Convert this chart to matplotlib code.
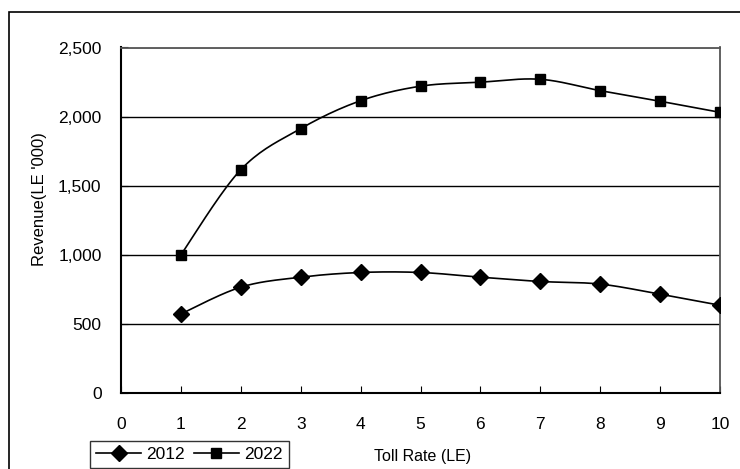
import numpy as np
import matplotlib.pyplot as plt
from matplotlib.patches import Rectangle
from matplotlib.ticker import FuncFormatter

toll_rate = [1, 2, 3, 4, 5, 6, 7, 8, 9, 10]
rev_2012 = [572, 766, 838, 872, 872, 838, 807, 788, 715, 635]
rev_2022 = [1000, 1616, 1913, 2115, 2220, 2249, 2270, 2188, 2111, 2031]


def smooth(x, y, n=20):
    # Catmull-Rom curve through the points, like a smoothed line in a spreadsheet chart
    x = np.asarray(x, float)
    y = np.asarray(y, float)
    px = np.concatenate([[x[0]], x, [x[-1]]])
    py = np.concatenate([[y[0]], y, [y[-1]]])
    xs, ys = [], []
    t = np.linspace(0, 1, n)
    for i in range(1, len(px) - 2):
        for p, out in ((px, xs), (py, ys)):
            p0, p1, p2, p3 = p[i - 1], p[i], p[i + 1], p[i + 2]
            out.extend(0.5 * (2 * p1 + (-p0 + p2) * t
                              + (2 * p0 - 5 * p1 + 4 * p2 - p3) * t ** 2
                              + (-p0 + 3 * p1 - 3 * p2 + p3) * t ** 3))
    return xs, ys


plt.rcParams['font.family'] = ['Liberation Sans', 'DejaVu Sans']

fig = plt.figure(figsize=(7.4, 4.69), dpi=100)
ax = fig.add_axes([121 / 740, 1 - 393 / 469, (720 - 121) / 740, (393 - 47.5) / 469])

# outer chart border
fig.patches.append(Rectangle((9 / 740, -0.1), 1.2, 1 - 12 / 469 + 0.1,
                             transform=fig.transFigure, fill=False,
                             edgecolor='black', linewidth=1.2))

for yr, vals, mk, ms in (('2012', rev_2012, 'D', 8), ('2022', rev_2022, 's', 7)):
    sx, sy = smooth(toll_rate, vals)
    ax.plot(sx, sy, color='black', linewidth=1.2, zorder=3)
    ax.plot(toll_rate, vals, linestyle='none', marker=mk, markersize=ms,
            color='black', zorder=4)

# legend entries
h1, = ax.plot([], [], color='black', marker='D', markersize=8, linewidth=1.2, label='2012')
h2, = ax.plot([], [], color='black', marker='s', markersize=7, linewidth=1.2, label='2022')
leg = fig.legend(handles=[h1, h2], loc='upper left', bbox_to_anchor=(90 / 740, 1 - 441 / 469),
                 ncol=2, frameon=True, fancybox=False, edgecolor='black', fontsize=12.5,
                 handlelength=2.6, handletextpad=0.3, columnspacing=0.5,
                 borderpad=0.35, borderaxespad=0)
leg.get_frame().set_linewidth(1.0)

ax.set_xlim(0, 10)
ax.set_ylim(0, 2500)
ax.set_xticks(range(0, 11))
ax.set_yticks(range(0, 2501, 500))
ax.yaxis.set_major_formatter(FuncFormatter(lambda v, p: f'{int(v):,}'))
ax.grid(axis='y', color='black', linewidth=1.0)
ax.set_axisbelow(True)

for s in ('top', 'right'):
    ax.spines[s].set_color('#555555')
    ax.spines[s].set_linewidth(1.3)
for s in ('left', 'bottom'):
    ax.spines[s].set_color('black')
    ax.spines[s].set_linewidth(1.5)

ax.tick_params(axis='x', direction='in', length=5, pad=17, labelsize=12.5)
ax.tick_params(axis='y', direction='in', length=5, pad=14, labelsize=12.5)

ax.set_xlabel('Toll Rate (LE)', fontsize=11.5)
ax.set_ylabel("Revenue(LE '000)", fontsize=12)
ax.xaxis.set_label_coords(0.504, -0.162)
ax.yaxis.set_label_coords(-0.124, 0.56)

fig.savefig('out.png', dpi=100)
